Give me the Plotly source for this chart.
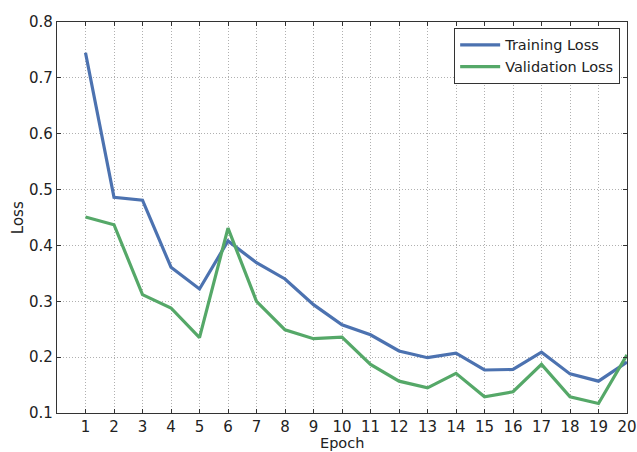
import plotly.graph_objects as go

epochs = list(range(1, 21))
training_loss = [0.745, 0.486, 0.481, 0.361, 0.322, 0.408, 0.369, 0.340, 0.294, 0.258,
                 0.240, 0.211, 0.199, 0.207, 0.177, 0.178, 0.209, 0.170, 0.157, 0.191]
validation_loss = [0.451, 0.437, 0.312, 0.288, 0.235, 0.431, 0.300, 0.249, 0.233, 0.236,
                   0.187, 0.157, 0.145, 0.171, 0.129, 0.138, 0.187, 0.129, 0.117, 0.204]
x_ticks = list(range(1, 21))
y_ticks = [0.1, 0.2, 0.3, 0.4, 0.5, 0.6, 0.7, 0.8]

fig = go.Figure()
fig.add_trace(go.Scatter(x=epochs, y=training_loss, mode="lines", name="Training Loss",
                         line=dict(color="#4C72B0", width=3.2)))
fig.add_trace(go.Scatter(x=epochs, y=validation_loss, mode="lines", name="Validation Loss",
                         line=dict(color="#55A868", width=3.2)))

fs = 15
fig.update_layout(
    width=637, height=452,
    margin=dict(l=57, r=10, t=22, b=39),
    paper_bgcolor="white", plot_bgcolor="white",
    font=dict(family="DejaVu Sans", size=fs, color="#222222"),
    showlegend=True,
    legend=dict(x=0.988, y=0.985, xanchor="right", yanchor="top",
                bordercolor="#333333", borderwidth=1, bgcolor="white",
                font=dict(family="DejaVu Sans", size=14.5, color="#222222"),
                itemwidth=40, tracegroupgap=0),
    annotations=[
        dict(text="Epoch", xref="paper", yref="paper", x=0.5, y=-0.0755,
             xanchor="center", yanchor="middle", showarrow=False, borderpad=0,
             font=dict(family="DejaVu Sans", size=14.5, color="#222222")),
        dict(text="Loss", xref="paper", yref="paper", x=-0.069, y=0.5,
             xanchor="center", yanchor="middle", showarrow=False, textangle=-90,
             font=dict(family="DejaVu Sans", size=fs, color="#222222")),
    ],
)
fig.update_xaxes(
    range=[0, 20], tickmode="array", tickvals=x_ticks, ticktext=[str(t) for t in x_ticks],
    showgrid=True, gridcolor="#b0b0b0", griddash="1px,2px", gridwidth=1,
    showline=True, linecolor="#333333", linewidth=1.2, mirror="ticks",
    ticks="inside", ticklen=4, tickcolor="#333333",
    zeroline=False, automargin=False,
    tickfont=dict(family="DejaVu Sans", size=fs),
)
fig.update_yaxes(
    range=[0.1, 0.8], tickmode="array", tickvals=y_ticks, ticktext=[f"{v:.1f}" for v in y_ticks],
    showgrid=True, gridcolor="#b0b0b0", griddash="1px,2px", gridwidth=1,
    showline=True, linecolor="#333333", linewidth=1.2, mirror="ticks",
    ticks="inside", ticklen=4, tickcolor="#333333",
    zeroline=False, automargin=False,
    tickfont=dict(family="DejaVu Sans", size=fs),
)

fig.write_html("out.html")
